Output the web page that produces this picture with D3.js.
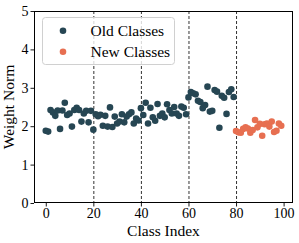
<!DOCTYPE html>
<html><head><meta charset="utf-8">
<script src="https://cdn.jsdelivr.net/npm/d3@7"></script>
<style>body{margin:0;background:#fff}svg{display:block}</style>
</head><body>
<svg id="c" width="299" height="243"></svg>
<script>
const oldValues = [1.88,1.86,2.42,2.36,2.27,2.41,1.93,2.41,2.61,2.29,
  2.33,1.99,2.42,2.48,2.42,2.12,2.33,2.40,2.10,2.40,
  1.91,2.31,2.26,2.30,2.01,2.27,1.99,2.49,1.98,2.25,
  2.07,2.12,2.31,2.10,2.25,2.31,2.36,2.07,2.20,2.15,
  2.47,2.29,2.61,2.07,2.48,2.23,2.14,2.58,2.27,2.33,
  2.23,2.57,2.42,2.33,2.50,2.33,2.27,2.51,2.48,2.31,
  2.75,2.89,2.86,2.83,2.66,2.63,2.47,2.55,3.03,2.38,
  2.40,2.94,2.90,1.96,2.79,2.74,2.32,2.89,2.96,2.76];
const newValues = [1.875,1.84,1.83,1.93,1.97,1.94,1.83,1.90,2.16,1.97,
  2.06,1.75,2.05,2.07,1.99,2.12,1.85,1.88,2.07,2.01];
const xTicks = [0,20,40,60,80,100];
const yTicks = [0,1,2,3,4,5];
const splitLines = [20,40,60,80];
const seriesNames = ["Old Classes","New Classes"];
const colors = ["#264653","#e76f51"];

const svg = d3.select("#c");
const L=34, R=293, T=11, B=203;
const x = d3.scaleLinear().domain([-4.95,103.95]).range([L,R]);
const y = d3.scaleLinear().domain([0,5]).range([B,T]);
const font = "'Liberation Serif','Times New Roman',serif";

svg.append("g").selectAll("line").data(splitLines).join("line")
  .attr("x1",d=>x(d)+0.5).attr("x2",d=>x(d)+0.5).attr("y1",T).attr("y2",B)
  .attr("stroke","#333").attr("stroke-width",1).attr("stroke-dasharray","3,2");

const oldPts = oldValues.map((v,i)=>({i,v}));
const newPts = newValues.map((v,k)=>({i:oldValues.length+k,v}));
svg.append("g").selectAll("circle").data(oldPts).join("circle")
  .attr("cx",d=>x(d.i)).attr("cy",d=>y(d.v)).attr("r",3.3).attr("fill",colors[0]);
svg.append("g").selectAll("circle").data(newPts).join("circle")
  .attr("cx",d=>x(d.i)).attr("cy",d=>y(d.v)).attr("r",3.3).attr("fill",colors[1]);

const xa = svg.append("g").attr("transform",`translate(0,${B})`)
  .call(d3.axisBottom(x).tickValues(xTicks).tickFormat(d3.format("d")).tickSize(3.5).tickPadding(2));
const ya = svg.append("g").attr("transform",`translate(${L},0)`)
  .call(d3.axisLeft(y).tickValues(yTicks).tickFormat(d3.format("d")).tickSize(3.5).tickPadding(2));
[xa,ya].forEach(a=>{
  a.select(".domain").remove();
  a.selectAll("line").attr("stroke","#000").attr("stroke-width",0.9);
  a.selectAll("text").attr("font-family",font).attr("font-size","14px").attr("fill","#000");
});
svg.append("rect").attr("x",L+0.5).attr("y",T+0.5).attr("width",R-L-1).attr("height",B-T-1)
  .attr("fill","none").attr("stroke","#000").attr("stroke-width",1);

svg.append("text").attr("x",(L+R)/2).attr("y",236).attr("text-anchor","middle")
  .attr("font-family",font).attr("font-size","15.5px").text("Class Index");
svg.append("text").attr("transform",`translate(14,${(T+B)/2}) rotate(-90)`).attr("text-anchor","middle")
  .attr("font-family",font).attr("font-size","15.5px").text("Weight Norm");

const lg = svg.append("g");
lg.append("rect").attr("x",42.5).attr("y",17.5).attr("width",132).attr("height",47).attr("rx",3)
  .attr("fill","#fff").attr("fill-opacity",0.8).attr("stroke","#d0d0d0").attr("stroke-width",1);
seriesNames.forEach((n,k)=>{
  const cy = 30.7 + k*21;
  lg.append("circle").attr("cx",63).attr("cy",cy).attr("r",3.3).attr("fill",colors[k]);
  lg.append("text").attr("x",90.5).attr("y",cy+5).attr("font-family",font).attr("font-size","15.5px").text(n);
});
</script>
</body></html>
